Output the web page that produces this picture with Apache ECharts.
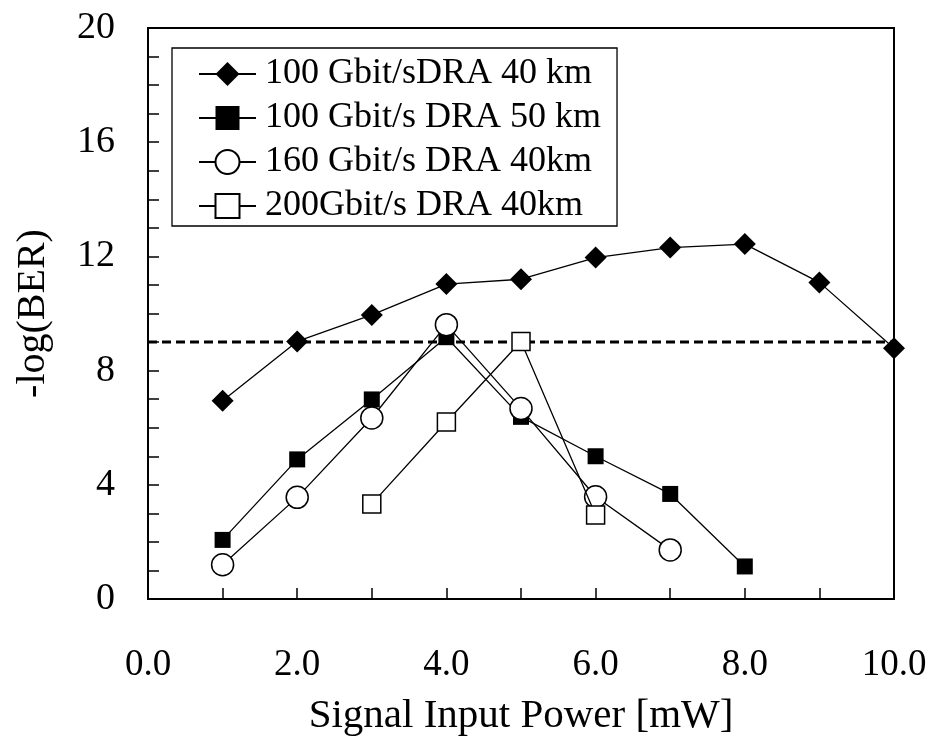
<!DOCTYPE html>
<html>
<head>
<meta charset="utf-8">
<script src="https://cdn.jsdelivr.net/npm/echarts@6/dist/echarts.min.js"></script>
<style>
  html, body { margin: 0; padding: 0; background: #fff; }
  #chart { width: 933px; height: 742px; }
</style>
</head>
<body>
<div id="chart"></div>
<script>
// Signal input power (mW) for each measured point
const power = [1, 2, 3, 4, 5, 6, 7, 8, 9, 10];

// -log(BER) per configuration
const dra100g40km = [6.94, 9.02, 9.95, 11.03, 11.20, 11.96, 12.31, 12.43, 11.09, 8.78];
const dra100g50km = [2.07, 4.89, 6.99, 9.17, 6.38, 5.00, 3.68, 1.14];
const dra160g40km = [1.20, 3.56, 6.34, 9.61, 6.67, 3.58, 1.72];
const power200g = [3, 4, 5, 6];
const dra200g40km = [3.33, 6.20, 9.02, 2.94];

// BER threshold (10^-9)
const thresholdLevel = 9;
const thresholdSpan = [0, 10];

const seriesNames = [
  '100 Gbit/sDRA 40 km',
  '100 Gbit/s DRA 50 km',
  '160 Gbit/s DRA 40km',
  '200Gbit/s DRA 40km'
];

const xTickLabels = ['0.0', '2.0', '4.0', '6.0', '8.0', '10.0'];
const yTickLabels = ['0', '4', '8', '12', '16', '20'];

const FONT = "'Liberation Serif', 'Times New Roman', serif";

function pairs(xs, ys) {
  return ys.map((y, i) => [xs[i], y]);
}

const lineStyle = { color: '#000', width: 1.3 };

const chart = echarts.init(document.getElementById('chart'), null, { renderer: 'canvas' });

chart.setOption({
  backgroundColor: '#fff',
  animation: false,
  grid: {
    left: 148, right: 39, top: 28, bottom: 141,
    show: true, borderColor: '#000', borderWidth: 2, backgroundColor: 'transparent'
  },
  legend: {
    orient: 'vertical',
    left: 172, top: 48,
    padding: [8, 16, 2, 26],
    itemWidth: 57, itemHeight: 30, itemGap: 8,
    backgroundColor: '#fff',
    borderColor: '#000', borderWidth: 1.3, borderRadius: 0,
    textStyle: { fontFamily: FONT, fontSize: 36, color: '#000', padding: [0, 0, 0, 4] },
    data: seriesNames
  },
  xAxis: {
    type: 'value', min: 0, max: 10, interval: 1,
    name: 'Signal Input Power [mW]', nameLocation: 'middle', nameGap: 97,
    nameTextStyle: { fontFamily: FONT, fontSize: 41, color: '#000' },
    axisLine: { show: true, onZero: false, lineStyle: { color: '#000', width: 2 } },
    axisTick: { show: true, inside: true, length: 11, lineStyle: { color: '#000', width: 1.5 } },
    splitLine: { show: false },
    axisLabel: {
      fontFamily: FONT, fontSize: 37, color: '#000', margin: 48,
      formatter: v => (v % 2 === 0 ? xTickLabels[v / 2] : '')
    }
  },
  yAxis: {
    type: 'value', min: 0, max: 20, interval: 1,
    name: '-log(BER)', nameLocation: 'middle', nameGap: 95,
    nameTextStyle: { fontFamily: FONT, fontSize: 40, color: '#000' },
    axisLine: { show: true, onZero: false, lineStyle: { color: '#000', width: 2 } },
    axisTick: { show: true, inside: true, length: 11, lineStyle: { color: '#000', width: 1.5 } },
    splitLine: { show: false },
    axisLabel: {
      fontFamily: FONT, fontSize: 38, color: '#000', margin: 33,
      formatter: v => (v % 4 === 0 ? yTickLabels[v / 4] : '')
    }
  },
  series: [
    {
      name: 'threshold', type: 'line', z: 1,
      data: thresholdSpan.map(x => [x, thresholdLevel]),
      symbol: 'none', silent: true,
      lineStyle: { color: '#000', width: 3, type: [9, 5] }
    },
    {
      name: seriesNames[0], type: 'line', z: 2,
      data: pairs(power, dra100g40km),
      symbol: 'diamond', symbolSize: 22,
      lineStyle: lineStyle,
      itemStyle: { color: '#000', borderColor: '#000', borderWidth: 0 }
    },
    {
      name: seriesNames[1], type: 'line', z: 3,
      data: pairs(power, dra100g50km),
      symbol: 'rect', symbolSize: 16,
      lineStyle: lineStyle,
      itemStyle: { color: '#000', borderColor: '#000', borderWidth: 0 }
    },
    {
      name: seriesNames[2], type: 'line', z: 4,
      data: pairs(power, dra160g40km),
      symbol: 'circle', symbolSize: 22,
      lineStyle: lineStyle,
      itemStyle: { color: '#fff', borderColor: '#000', borderWidth: 1.5 }
    },
    {
      name: seriesNames[3], type: 'line', z: 5,
      data: pairs(power200g, dra200g40km),
      symbol: 'rect', symbolSize: 18,
      lineStyle: lineStyle,
      itemStyle: { color: '#fff', borderColor: '#000', borderWidth: 1.5 }
    }
  ]
});
</script>
</body>
</html>
